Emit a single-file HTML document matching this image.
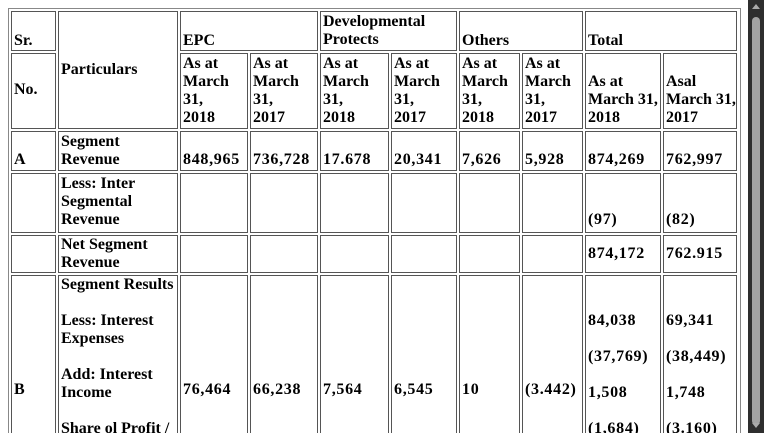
<!DOCTYPE html>
<html><head><meta charset="utf-8"><style>
html,body{margin:0;padding:0;width:764px;height:433px;overflow:hidden;background:#fff;font-family:"Liberation Serif",serif;}
#wrap{position:absolute;left:0;top:0;width:764px;height:433px;overflow:hidden;}
#tbl{position:absolute;left:8px;top:8px;width:733px;height:425px;border:1px solid #888;border-bottom:none;box-sizing:border-box;}
.c{position:absolute;border:1px solid #555;box-sizing:border-box;overflow:hidden;}
.open{border-bottom:none;}
.t{position:absolute;left:2px;font-weight:bold;font-size:16px;line-height:18px;color:#000;white-space:nowrap;}
.n{letter-spacing:0.7px;}
#sb{position:absolute;left:748px;top:0;width:16px;height:433px;background:#2e2e2e;}
#thumb{position:absolute;left:4px;top:17px;width:8px;height:408px;background:#a3a3a3;border-radius:4px;}
</style></head><body>
<div id="wrap">
<div id="tbl"></div>
<div id="cells"></div>
<div id="sb">
<div id="thumb"></div>
<div style="position:absolute;left:4px;top:4px;width:0;height:0;border-left:4px solid transparent;border-right:4px solid transparent;border-bottom:5px solid #aaa"></div>
<div style="position:absolute;left:4px;top:423px;width:0;height:0;border-left:4px solid transparent;border-right:4px solid transparent;border-top:5px solid #aaa"></div>
</div>
</div>
<script>
const X=[11,58,180,250,320,391,459,522,585,663,739];
const cells=[
[0,1,11,51,["Sr."],32,"header-sr"],
[1,2,11,129,["Particulars"],61,"header-particulars"],
[2,4,11,51,["EPC"],32,"header-epc"],
[4,6,11,51,["Developmental","Protects"],13,"header-developmental"],
[6,8,11,51,["Others"],32,"header-others"],
[8,10,11,51,["Total"],32,"header-total"],
[0,1,53,129,["No."],81,"header-no"],
[2,3,53,129,["As at","March","31,","2018"],55,"epc-2018-header"],
[3,4,53,129,["As at","March","31,","2017"],55,"epc-2017-header"],
[4,5,53,129,["As at","March","31,","2018"],55,"dev-2018-header"],
[5,6,53,129,["As at","March","31,","2017"],55,"dev-2017-header"],
[6,7,53,129,["As at","March","31,","2018"],55,"others-2018-header"],
[7,8,53,129,["As at","March","31,","2017"],55,"others-2017-header"],
[8,9,53,129,["As at","March 31,","2018"],73,"total-2018-header"],
[9,10,53,129,["Asal","March 31,","2017"],73,"total-2017-header"],
[0,1,131,171,["A"],151,"row-a-sr"],
[1,2,131,171,["Segment","Revenue"],133,"row-a-particulars"],
[2,3,131,171,["848,965"],151,"a-epc-2018",1],
[3,4,131,171,["736,728"],151,"a-epc-2017",1],
[4,5,131,171,["17.678"],151,"a-dev-2018",1],
[5,6,131,171,["20,341"],151,"a-dev-2017",1],
[6,7,131,171,["7,626"],151,"a-others-2018",1],
[7,8,131,171,["5,928"],151,"a-others-2017",1],
[8,9,131,171,["874,269"],151,"a-total-2018",1],
[9,10,131,171,["762,997"],151,"a-total-2017",1],
[0,1,173,233,[],0,"inter-sr"],
[1,2,173,233,["Less: Inter","Segmental","Revenue"],175,"inter-particulars"],
[2,3,173,233,[],0,"inter-epc-2018"],[3,4,173,233,[],0,"inter-epc-2017"],
[4,5,173,233,[],0,"inter-dev-2018"],[5,6,173,233,[],0,"inter-dev-2017"],
[6,7,173,233,[],0,"inter-others-2018"],[7,8,173,233,[],0,"inter-others-2017"],
[8,9,173,233,["(97)"],211,"inter-total-2018",1],
[9,10,173,233,["(82)"],211,"inter-total-2017",1],
[0,1,235,273,[],0,"net-sr"],
[1,2,235,273,["Net Segment","Revenue"],236,"net-particulars"],
[2,3,235,273,[],0,"net-epc-2018"],[3,4,235,273,[],0,"net-epc-2017"],
[4,5,235,273,[],0,"net-dev-2018"],[5,6,235,273,[],0,"net-dev-2017"],
[6,7,235,273,[],0,"net-others-2018"],[7,8,235,273,[],0,"net-others-2017"],
[8,9,235,273,["874,172"],245,"net-total-2018",1],
[9,10,235,273,["762.915"],245,"net-total-2017",1],
[0,1,275,433,["B"],381,"row-b-sr"],
[1,2,275,433,["Segment Results","","Less: Interest","Expenses","","Add: Interest","Income","","Share ol Profit /"],276,"row-b-particulars"],
[2,3,275,433,["76,464"],381,"b-epc-2018",1],
[3,4,275,433,["66,238"],381,"b-epc-2017",1],
[4,5,275,433,["7,564"],381,"b-dev-2018",1],
[5,6,275,433,["6,545"],381,"b-dev-2017",1],
[6,7,275,433,["10"],381,"b-others-2018",1],
[7,8,275,433,["(3.442)"],381,"b-others-2017",1],
[8,9,275,433,["84,038","","(37,769)","","1,508","","(1,684)"],312,"b-total-2018",1],
[9,10,275,433,["69,341","","(38,449)","","1,748","","(3.160)"],312,"b-total-2017",1]
];
const root=document.getElementById('cells');
for(const c of cells){
  const d=document.createElement('div');
  d.className='c'+(c[3]>=433?' open':'');
  
  
  d.style.left=X[c[0]]+'px';
  d.style.width=(X[c[1]]-X[c[0]]-2)+'px';
  d.style.top=c[2]+'px';
  d.style.height=(c[3]-c[2])+'px';
  if(c[4].length){
    const t=document.createElement('div');
    t.className='t'+(c[7]?' n':'');
    
    
    t.style.top=(c[5]-c[2]-1)+'px';
    t.innerHTML=c[4].map(s=>s===''?'&nbsp;':s).join('<br>');
    d.appendChild(t);
  }
  root.appendChild(d);
}
</script>
</body></html>
